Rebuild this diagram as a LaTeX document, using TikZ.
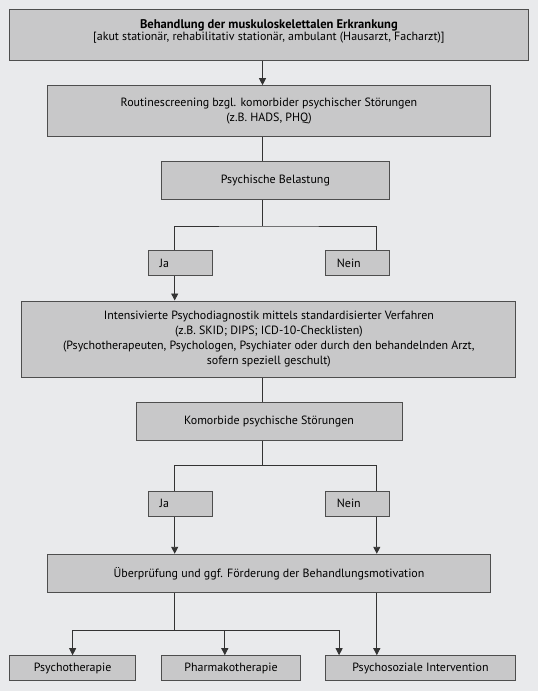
\documentclass[tikz,border=0pt]{standalone}
\usepackage{fontspec}
\setmainfont{PT Sans}
\usetikzlibrary{arrows.meta}
\definecolor{gback}{HTML}{E9EAEC}
\definecolor{gbox}{HTML}{C8C8C9}
\definecolor{gline}{HTML}{4E4E4E}

\begin{document}
\begin{tikzpicture}[x=1bp,y=-1bp,>={Triangle[width=7bp,length=7bp]}]
    \tikzset{bx/.style={
      rectangle,
      draw=gline,
      fill=gbox,
      line width=1bp,
      inner sep=0pt,
      align=center,
      font=\fontsize{12}{14.5}\selectfont},
      yn/.style={bx, minimum width=64bp, minimum height=25bp,
        text width=41bp, align=left}}
    \fill[gback] (0, 0) rectangle (538, 691);
    \useasboundingbox (0, 0) rectangle (538, 691);

    \node[bx, minimum width=519bp, minimum height=51bp,
      font=\fontsize{12}{12}\selectfont] at (268.9, 34.8) (0)
      {{\fontsize{12.6}{12}\selectfont\bfseries Behandlung der muskuloskelettalen Erkrankung}\\{}[akut station\"ar, rehabilitativ station\"ar, ambulant (Hausarzt, Facharzt)]\rule[-10pt]{0pt}{0pt}};
    \node[bx, minimum width=443bp, minimum height=50.6bp] at (269, 111) (1)
      {Routinescreening bzgl. komorbider psychischer St\"orungen\\(z.B. HADS, PHQ)};
    \node[bx, minimum width=228bp, minimum height=38.3bp] at (275.4, 180.8) (2) {Psychische Belastung};
    \node[yn] at (180.2, 263.2) (3) {Ja};
    \node[yn] at (357.4, 263.2) (4) {Nein};
    \node[bx, minimum width=494bp, minimum height=76bp,
      font=\fontsize{12}{15}\selectfont] at (268.9, 339) (5)
      {Intensivierte Psychodiagnostik mittels standardisierter Verfahren\\(z.B. SKID; DIPS; ICD-10-Checklisten)\\(Psychotherapeuten, Psychologen, Psychiater oder durch den behandelnden Arzt,\\sofern speziell geschult)};
    \node[bx, minimum width=266bp, minimum height=37.7bp] at (269, 421.5) (6) {Komorbide psychische St\"orungen};
    \node[yn] at (180.2, 503.8) (7) {Ja};
    \node[yn] at (357.4, 503.8) (8) {Nein};
    \node[bx, minimum width=443bp, minimum height=38bp] at (269, 573.3) (9)
      {\"Uberpr\"ufung und ggf. F\"orderung der Behandlungsmotivation};
    \node[bx, minimum width=126.6bp, minimum height=25bp] at (72.6, 668.2) (10) {Psychotherapie};
    \node[bx, minimum width=139.3bp, minimum height=25bp] at (231, 668.2) (11) {Pharmakotherapie};
    \node[bx, minimum width=190.5bp, minimum height=25bp] at (420.5, 668.2) (12) {Psychosoziale Intervention};

    \coordinate (m) at (262.5, 0);
    \coordinate (l) at (174.7, 0);
    \coordinate (r) at (376.8, 0);
    \coordinate (a) at (224.8, 0);
    \coordinate (b) at (339.1, 0);
    \coordinate (b1) at (262.5, 226);
    \coordinate (b2) at (262.5, 465.7);
    \coordinate (b3) at (174.7, 630.3);

    \begin{scope}[draw=black!80, line width=.9bp]
    \draw[->] (0.south -| m) -- (1.north -| m);
    \draw (1.south -| m) -- (2.north -| m);
    \draw (2.south -| m) -- (b1);
    \draw (3.north -| l) |- (b1) -| (4.north -| r);
    \draw[->] (3.south -| l) -- (5.north -| l);
    \draw (5.south -| m) -- (6.north -| m);
    \draw (6.south -| m) -- (b2);
    \draw (7.north -| l) |- (b2) -| (8.north -| r);
    \draw[->] (7.south -| l) -- (9.north -| l);
    \draw[->] (8.south -| r) -- (9.north -| r);
    \draw (9.south -| l) -- (b3);
    \draw[->] (b3) -| (10.north);
    \draw[->] (b3) -| (12.north -| b);
    \draw[->] (b3 -| a) -- (11.north -| a);
    \draw[->] (9.south -| r) -- (12.north -| r);
    \end{scope}
  \end{tikzpicture}
\end{document}
